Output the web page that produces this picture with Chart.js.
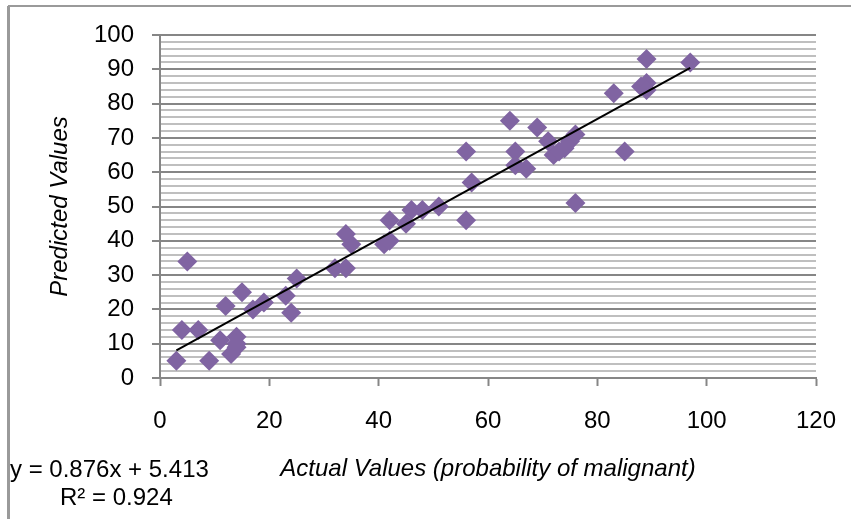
<!DOCTYPE html>
<html>
<head>
<meta charset="utf-8">
<script src="https://cdn.jsdelivr.net/npm/chart.js@4/dist/chart.umd.min.js"></script>
<style>
  body { margin: 0; background: #fff; }
  canvas { display: block; }
</style>
</head>
<body>
<canvas id="myChart" width="851" height="519"></canvas>
<script>
// values
const actualValues = [3, 4, 5, 7, 9, 11, 12, 13, 14, 14, 14, 15, 17, 19, 23, 24, 25,
  32, 34, 34, 35, 41, 42, 42, 45, 46, 48, 51, 56, 56, 57, 64, 65, 65, 67, 69,
  71, 72, 73, 74, 75, 76, 76, 83, 85, 88, 89, 89, 89, 97];
const predictedValues = [5, 14, 34, 14, 5, 11, 21, 7, 12, 9, 10, 25, 20, 22, 24, 19, 29,
  32, 42, 32, 39, 39, 46, 40, 45, 49, 49, 50, 66, 46, 57, 75, 66, 62, 61, 73,
  69, 65, 66, 67, 69, 71, 51, 83, 66, 85, 93, 86, 84, 92];

// trendline shown in the chart: y = 0.876x + 5.413
const slope = 0.876;
const intercept = 5.413;
const trendX = [3, 97];
const xTicks = [0, 20, 40, 60, 80, 100, 120];

const fontName = "'Liberation Sans', Arial, sans-serif";
const axisGray = "#868686";

const points = actualValues.map((x, i) => ({ x: x, y: predictedValues[i] }));
const trendPoints = trendX.map((x) => ({ x: x, y: slope * x + intercept }));

// frame on the left and top, and the equation text
const extras = {
  id: "extras",
  beforeDraw(chart) {
    const c = chart.ctx;
    c.save();
    c.fillStyle = "#fff";
    c.fillRect(0, 0, chart.width, chart.height);
    c.strokeStyle = "#9a9a9a";
    c.lineWidth = 3;
    c.beginPath();
    c.moveTo(8.5, 519);
    c.lineTo(8.5, 6);
    c.stroke();
    c.lineWidth = 2;
    c.beginPath();
    c.moveTo(8, 6);
    c.lineTo(851, 6);
    c.stroke();
    c.restore();
  },
  afterDraw(chart) {
    const c = chart.ctx;
    c.save();
    c.fillStyle = "#000";
    c.font = "24px " + fontName;
    c.textBaseline = "middle";
    c.textAlign = "left";
    c.fillText("y = 0.876x + 5.413", 10, 470);
    c.fillText("R\u00B2 = 0.924", 60, 498);
    c.restore();
  },
};

const cfg = {
  type: "scatter",
  data: {
    datasets: [
      {
        label: "Trendline",
        data: trendPoints,
        showLine: true,
        borderColor: "#000",
        borderWidth: 2,
        pointRadius: 0,
        order: 0,
      },
      {
        label: "Predicted",
        data: points,
        pointStyle: "rectRot",
        pointRadius: 10,
        pointBackgroundColor: "#8064A2",
        pointBorderWidth: 0,
        order: 1,
      },
    ],
  },
  options: {
    responsive: false,
    animation: false,
    layout: { padding: { left: 0, right: 35, top: 35, bottom: 0 } },
    plugins: {
      legend: { display: false },
      tooltip: { enabled: false },
    },
    scales: {
      x: {
        type: "linear",
        min: 0,
        max: 120,
        afterBuildTicks: (scale) => {
          scale.ticks = xTicks.map((v) => ({ value: v }));
        },
        afterFit: (scale) => {
          scale.height = 141;
          scale.paddingLeft = 0;
          scale.paddingRight = 0;
        },
        ticks: {
          color: "#000",
          font: { family: fontName, size: 24 },
          padding: 21,
          maxRotation: 0,
        },
        grid: {
          drawOnChartArea: false,
          drawTicks: true,
          tickLength: 8,
          tickColor: axisGray,
          tickWidth: 2,
        },
        border: { color: axisGray, width: 2 },
        title: {
          display: true,
          text: "Actual Values (probability of malignant)",
          color: "#000",
          font: { family: fontName, size: 24, style: "italic" },
          padding: { top: 0, bottom: 35 },
        },
      },
      y: {
        min: 0,
        max: 100,
        afterFit: (scale) => {
          scale.width = 160;
        },
        ticks: {
          stepSize: 2,
          autoSkip: false,
          color: "#000",
          font: { family: fontName, size: 24 },
          padding: 18,
          callback: (value) => (value % 10 === 0 ? value : ""),
        },
        grid: {
          color: (ctx) => (ctx.tick && ctx.tick.value % 10 === 0 ? axisGray : "#BFBFBF"),
          lineWidth: 2,
          tickLength: 8,
          tickWidth: 2,
          tickColor: (ctx) => (ctx.tick && ctx.tick.value % 10 === 0 ? axisGray : "rgba(0,0,0,0)"),
        },
        border: { color: axisGray, width: 2 },
        title: {
          display: true,
          text: "Predicted Values",
          color: "#000",
          font: { family: fontName, size: 24, style: "italic" },
          padding: { top: 46, bottom: 0 },
        },
      },
    },
  },
  plugins: [extras],
};

const ctx = document.getElementById("myChart");
new Chart(ctx, cfg);
</script>
</body>
</html>
